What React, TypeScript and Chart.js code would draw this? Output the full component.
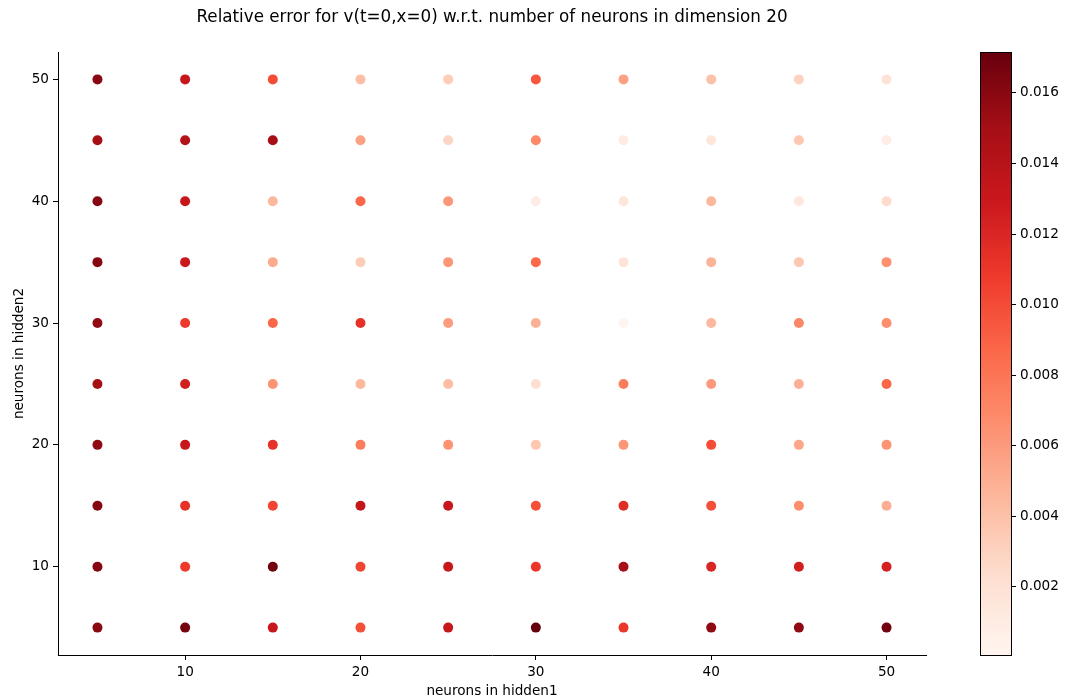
import React, { useEffect, useRef } from "react";
import { Chart, registerables } from "chart.js";

Chart.register(...registerables);

// neurons in hidden1 (x) and hidden2 (y)
const hidden1 = [5, 10, 15, 20, 25, 30, 35, 40, 45, 50];
const hidden2 = [5, 10, 15, 20, 25, 30, 35, 40, 45, 50];

// relative error, one row per hidden2 value, columns follow hidden1
const errH2_5 = [0.01596, 0.01665, 0.01305, 0.0098, 0.01322, 0.01716, 0.011, 0.01579, 0.01579, 0.01682];
const errH2_10 = [0.01613, 0.01083, 0.01682, 0.01032, 0.01305, 0.011, 0.01502, 0.01203, 0.01254, 0.01237];
const errH2_15 = [0.01613, 0.01134, 0.01032, 0.0134, 0.01305, 0.0098, 0.01168, 0.0098, 0.00672, 0.00501];
const errH2_20 = [0.01579, 0.01305, 0.01134, 0.00758, 0.00638, 0.00364, 0.00621, 0.00997, 0.00535, 0.00638];
const errH2_25 = [0.01494, 0.01254, 0.00638, 0.0045, 0.00416, 0.00219, 0.00758, 0.00604, 0.00484, 0.00878];
const errH2_30 = [0.01579, 0.01083, 0.00878, 0.01134, 0.00587, 0.00484, 0.00004, 0.0045, 0.00707, 0.00672];
const errH2_35 = [0.01613, 0.01288, 0.00518, 0.0033, 0.00621, 0.00861, 0.00176, 0.00467, 0.00364, 0.00655];
const errH2_40 = [0.01613, 0.01305, 0.0045, 0.00878, 0.00621, 0.00091, 0.00159, 0.0045, 0.00142, 0.00245];
const errH2_45 = [0.01494, 0.01425, 0.01494, 0.0057, 0.00279, 0.00689, 0.00108, 0.00159, 0.00364, 0.00091];
const errH2_50 = [0.01596, 0.01305, 0.00997, 0.00416, 0.0033, 0.00946, 0.0057, 0.00399, 0.00296, 0.00193];

const errorRows = [errH2_5, errH2_10, errH2_15, errH2_20, errH2_25, errH2_30, errH2_35, errH2_40, errH2_45, errH2_50];

const xTicks = [10, 20, 30, 40, 50];
const yTicks = [10, 20, 30, 40, 50];
const colorbarTicks = [0.002, 0.004, 0.006, 0.008, 0.01, 0.012, 0.014, 0.016];

const titleText = "Relative error for v(t=0,x=0) w.r.t. number of neurons in dimension 20";
const xLabel = "neurons in hidden1";
const yLabel = "neurons in hidden2";

// matplotlib "Reds" colormap anchors
const REDS = [
  [255, 245, 240],
  [254, 224, 210],
  [252, 187, 161],
  [252, 146, 114],
  [251, 106, 74],
  [239, 59, 44],
  [203, 24, 29],
  [165, 15, 21],
  [103, 0, 13],
];

function reds(t: number): string {
  const c = Math.max(0, Math.min(1, t));
  const p = c * (REDS.length - 1);
  const i = Math.min(REDS.length - 2, Math.floor(p));
  const f = p - i;
  const a = REDS[i];
  const b = REDS[i + 1];
  const r = Math.round(a[0] + (b[0] - a[0]) * f);
  const g = Math.round(a[1] + (b[1] - a[1]) * f);
  const bl = Math.round(a[2] + (b[2] - a[2]) * f);
  return `rgb(${r},${g},${bl})`;
}

const FONT = "'DejaVu Sans', 'Liberation Sans', sans-serif";
const W = 1077;
const H = 700;

export default function App() {
  const mainRef = useRef<HTMLCanvasElement | null>(null);
  const cbRef = useRef<HTMLCanvasElement | null>(null);

  useEffect(() => {
    document.body.style.margin = "0";
    const all = errorRows.flat();
    const vmin = Math.min(...all);
    const vmax = Math.max(...all);

    const points: { x: number; y: number; v: number }[] = [];
    errorRows.forEach((row, j) => {
      row.forEach((v, i) => {
        points.push({ x: hidden1[i], y: hidden2[j], v });
      });
    });
    const colors = points.map((p) => reds((p.v - vmin) / (vmax - vmin)));

    const tickFont = { family: FONT, size: 13.6 };

    const main = new Chart(mainRef.current!, {
      type: "scatter",
      data: {
        datasets: [
          {
            data: points.map((p) => ({ x: p.x, y: p.y })),
            backgroundColor: colors,
            borderColor: colors,
            borderWidth: 0,
            pointRadius: 5,
          },
        ],
      },
      options: {
        animation: false,
        responsive: false,
        events: [],
        layout: { padding: { left: 0, right: W - 926, top: 0, bottom: 0 } },
        plugins: {
          legend: { display: false },
          tooltip: { enabled: false },
          title: {
            display: true,
            text: titleText,
            color: "#000",
            fullSize: false,
            font: { family: FONT, size: 16.75, weight: "normal" },
            padding: { top: 8, bottom: 23.9 },
          },
        },
        scales: {
          x: {
            type: "linear",
            min: 2.75,
            max: 52.25,
            afterBuildTicks: (s: any) => {
              s.ticks = xTicks.map((v) => ({ value: v }));
            },
            afterFit: (s: any) => {
              s.height = 45;
            },
            ticks: { font: tickFont, color: "#000", padding: 4, maxRotation: 0 },
            grid: { display: true, drawOnChartArea: false, drawTicks: true, tickLength: 5, color: "#000", lineWidth: 1 },
            border: { display: true, color: "#000", width: 1 },
            title: {
              display: true,
              text: xLabel,
              color: "#000",
              font: { family: FONT, size: 13.6 },
              padding: { top: 4, bottom: 0 },
            },
          },
          y: {
            type: "linear",
            min: 2.75,
            max: 52.25,
            afterBuildTicks: (s: any) => {
              s.ticks = yTicks.map((v) => ({ value: v }));
            },
            afterFit: (s: any) => {
              s.width = 58;
            },
            ticks: { font: tickFont, color: "#000", padding: 4 },
            grid: { display: true, drawOnChartArea: false, drawTicks: true, tickLength: 5, color: "#000", lineWidth: 1 },
            border: { display: true, color: "#000", width: 1 },
            title: {
              display: true,
              text: yLabel,
              color: "#000",
              font: { family: FONT, size: 13.6 },
              padding: { top: 11, bottom: 4 },
            },
          },
        },
      },
    } as any);

    const gradientPlugin = {
      id: "cbGradient",
      beforeDatasetsDraw(chart: any) {
        const { ctx, chartArea } = chart;
        const { left, right, top, bottom } = chartArea;
        const g = ctx.createLinearGradient(0, bottom, 0, top);
        const n = 64;
        for (let k = 0; k <= n; k++) {
          g.addColorStop(k / n, reds(k / n));
        }
        ctx.save();
        ctx.fillStyle = g;
        ctx.fillRect(left, top, right - left, bottom - top);
        ctx.restore();
      },
      afterDraw(chart: any) {
        const { ctx, chartArea } = chart;
        const { left, right, top, bottom } = chartArea;
        ctx.save();
        ctx.strokeStyle = "#000";
        ctx.lineWidth = 1;
        ctx.strokeRect(Math.round(left) + 0.5, Math.round(top) + 0.5, Math.round(right - left) - 1, Math.round(bottom - top) - 1);
        ctx.restore();
      },
    };

    const cb = new Chart(cbRef.current!, {
      type: "scatter",
      data: { datasets: [] },
      options: {
        animation: false,
        responsive: false,
        events: [],
        layout: { padding: { left: 980, right: W - 1012 - 60, top: 52, bottom: H - 656 } },
        plugins: { legend: { display: false }, tooltip: { enabled: false }, title: { display: false } },
        scales: {
          x: { display: false, min: 0, max: 1 },
          y: {
            type: "linear",
            position: "right",
            min: vmin,
            max: vmax,
            afterBuildTicks: (s: any) => {
              s.ticks = colorbarTicks.map((v) => ({ value: v }));
            },
            afterFit: (s: any) => {
              s.width = 60;
            },
            ticks: {
              font: tickFont,
              color: "#000",
              padding: 4,
              callback: (v: any) => Number(v).toFixed(3),
            },
            grid: { display: true, drawOnChartArea: false, drawTicks: true, tickLength: 4, color: "#000", lineWidth: 1 },
            border: { display: false },
          },
        },
      },
      plugins: [gradientPlugin],
    } as any);

    return () => {
      main.destroy();
      cb.destroy();
    };
  }, []);

  return (
    <div style={{ position: "fixed", left: 0, top: 0, width: W, height: H, background: "#fff" }}>
      <canvas ref={mainRef} width={W} height={H} style={{ position: "absolute", left: 0, top: 0, width: W, height: H }} />
      <canvas
        ref={cbRef}
        width={W}
        height={H}
        style={{ position: "absolute", left: 0, top: 0, width: W, height: H, pointerEvents: "none" }}
      />
    </div>
  );
}
